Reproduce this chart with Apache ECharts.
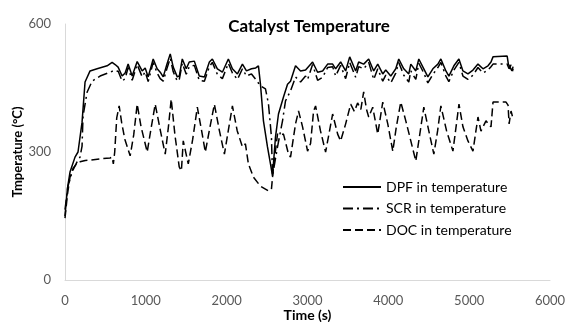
<!DOCTYPE html>
<html><head><meta charset="utf-8">
<script src="https://cdn.jsdelivr.net/npm/echarts@6/dist/echarts.min.js"></script>
<style>html,body{margin:0;padding:0;background:#fff}#c{width:566px;height:322px}</style>
</head><body><div id="c"></div>
<script>
const seriesNames = ['DPF in temperature', 'SCR in temperature', 'DOC in temperature'];
const xTicks = [0, 1000, 2000, 3000, 4000, 5000, 6000];
const yTicks = [0, 300, 600];

const dpfTime = [0,30,62,124,161,211,248,310,397,521,583,620,657,707,744,781,831,893,955,992,1029,1091,1140,1178,1215,1260,1302,1339,1389,1414,1451,1500,1537,1600,1661,1724,1786,1823,1885,1947,2021,2071,2133,2195,2245,2307,2360,2393,2418,2455,2505,2542,2567,2604,2641,2703,2753,2790,2852,2914,2976,3063,3125,3187,3249,3311,3348,3410,3472,3522,3596,3633,3695,3757,3819,3869,3931,3968,4030,4092,4129,4191,4253,4278,4340,4377,4439,4489,4551,4613,4650,4712,4749,4811,4873,4923,4985,5047,5109,5171,5233,5270,5295,5470,5485,5506,5530,5543];
const dpfTemp = [150,215,253,288,300,370,464,490,495,502,510,505,499,478,485,506,478,512,490,497,476,518,495,487,476,505,530,499,476,478,518,495,511,513,478,476,511,518,495,487,518,495,483,506,490,495,497,502,459,373,312,272,244,335,389,429,459,466,502,490,492,511,487,490,506,506,495,511,490,523,490,511,506,518,490,506,483,492,478,495,518,495,483,506,490,518,495,476,495,506,518,490,478,502,518,490,483,492,506,495,502,511,523,525,506,508,490,500];

const scrTime = [0,37,87,149,186,211,223,273,335,434,558,595,620,657,707,744,781,831,893,955,992,1029,1091,1140,1178,1215,1260,1302,1339,1389,1414,1451,1500,1537,1600,1661,1724,1786,1823,1885,1947,2021,2071,2133,2195,2245,2307,2360,2418,2480,2517,2554,2567,2629,2691,2728,2790,2852,2914,2976,3001,3063,3125,3187,3249,3311,3348,3410,3472,3522,3596,3633,3695,3757,3819,3869,3931,3968,4030,4092,4129,4191,4253,4278,4340,4377,4439,4489,4551,4613,4650,4712,4749,4811,4873,4923,4985,5047,5109,5171,5233,5270,5295,5470,5494,5518,5530,5543];
const scrTemp = [165,220,253,277,288,314,384,440,466,478,487,490,488,490,466,472,498,468,505,476,488,465,510,485,472,466,495,520,488,466,470,508,482,500,503,468,466,500,510,482,472,508,485,470,495,478,483,470,455,448,413,335,244,312,373,420,443,476,464,478,470,505,468,475,498,500,478,503,472,510,475,500,495,510,470,495,466,480,462,485,510,480,464,490,470,508,485,462,482,498,510,478,465,492,510,478,470,480,498,485,492,500,506,506,495,504,485,495];

const docTime = [0,30,62,100,150,186,250,310,434,558,583,598,615,640,670,700,740,806,850,893,940,1017,1060,1116,1180,1240,1280,1314,1360,1413,1440,1463,1525,1580,1637,1690,1736,1790,1848,1910,1972,2020,2071,2130,2195,2232,2269,2331,2418,2517,2554,2579,2629,2666,2703,2765,2790,2852,2889,2939,3001,3038,3075,3100,3160,3224,3311,3373,3410,3472,3534,3580,3620,3660,3695,3730,3757,3807,3869,3931,3993,4055,4100,4154,4216,4278,4340,4380,4439,4500,4563,4610,4650,4720,4799,4874,4923,4985,5047,5109,5146,5208,5270,5295,5456,5481,5494,5518,5543];
const docTemp = [145,200,241,262,274,277,280,281,284,286,288,272,300,380,408,370,330,291,340,412,360,300,350,412,350,295,360,424,340,265,256,326,272,330,405,350,300,355,412,350,295,350,408,350,312,319,272,241,220,209,213,265,342,340,342,295,288,366,396,359,302,320,396,408,350,300,389,342,326,366,412,395,415,400,441,400,382,405,342,417,366,302,360,417,373,326,279,330,405,350,295,350,408,350,302,412,359,326,302,382,349,373,359,417,417,410,366,396,378];

const zip = (t, v) => t.map((x, i) => [x, v[i]]);
const FONT = 'Lato';
const chart = echarts.init(document.getElementById('c'), null, {renderer: 'canvas'});
const lineSeries = (name, t, v, type) => ({
  name: name, type: 'line', data: zip(t, v), symbol: 'none', showSymbol: false, smooth: false,
  lineStyle: {color: '#000', width: 1.5, type: type}, itemStyle: {color: '#000'}
});
chart.setOption({
  animation: false,
  textStyle: {fontFamily: FONT},
  title: {text: 'Catalyst Temperature', left: 304, top: 13, textAlign: 'center',
    textStyle: {fontSize: 17, fontWeight: 'bold', color: '#000', fontFamily: FONT}},
  legend: {orient: 'vertical', left: 337, top: 175, itemWidth: 38, itemHeight: 14, itemGap: 7.5,
    itemStyle: {opacity: 0},
    textStyle: {fontSize: 14, color: '#000', fontFamily: FONT},
    data: seriesNames},
  grid: {left: 65, right: 16, top: 24, bottom: 42, containLabel: false, outerBoundsMode: 'none'},
  xAxis: {type: 'value', min: xTicks[0], max: xTicks[xTicks.length - 1], interval: 1000,
    name: 'Time (s)', nameLocation: 'middle', nameGap: 28, nameMoveOverlap: false,
    nameTextStyle: {fontSize: 14, fontWeight: 'bold', color: '#000', fontFamily: FONT},
    axisLine: {show: true, lineStyle: {color: '#d9d9d9', width: 1}},
    axisTick: {show: false}, splitLine: {show: false},
    axisLabel: {fontSize: 13, color: '#595959', margin: 14, fontFamily: FONT, formatter: v => String(v)}},
  yAxis: {type: 'value', min: yTicks[0], max: yTicks[yTicks.length - 1], interval: 300,
    name: 'Tmperature (°C)', nameLocation: 'middle', nameGap: 41, nameMoveOverlap: false,
    nameTextStyle: {fontSize: 13, fontWeight: 'bold', color: '#000', fontFamily: FONT},
    axisLine: {show: true, lineStyle: {color: '#d9d9d9', width: 1}},
    axisTick: {show: false}, splitLine: {show: false},
    axisLabel: {fontSize: 13, color: '#595959', margin: 14, fontFamily: FONT, formatter: v => String(v)}},
  series: [
    lineSeries(seriesNames[0], dpfTime, dpfTemp, 'solid'),
    lineSeries(seriesNames[1], scrTime, scrTemp, [10, 4, 2, 4]),
    lineSeries(seriesNames[2], docTime, docTemp, [8, 4])
  ]
});
</script></body></html>
